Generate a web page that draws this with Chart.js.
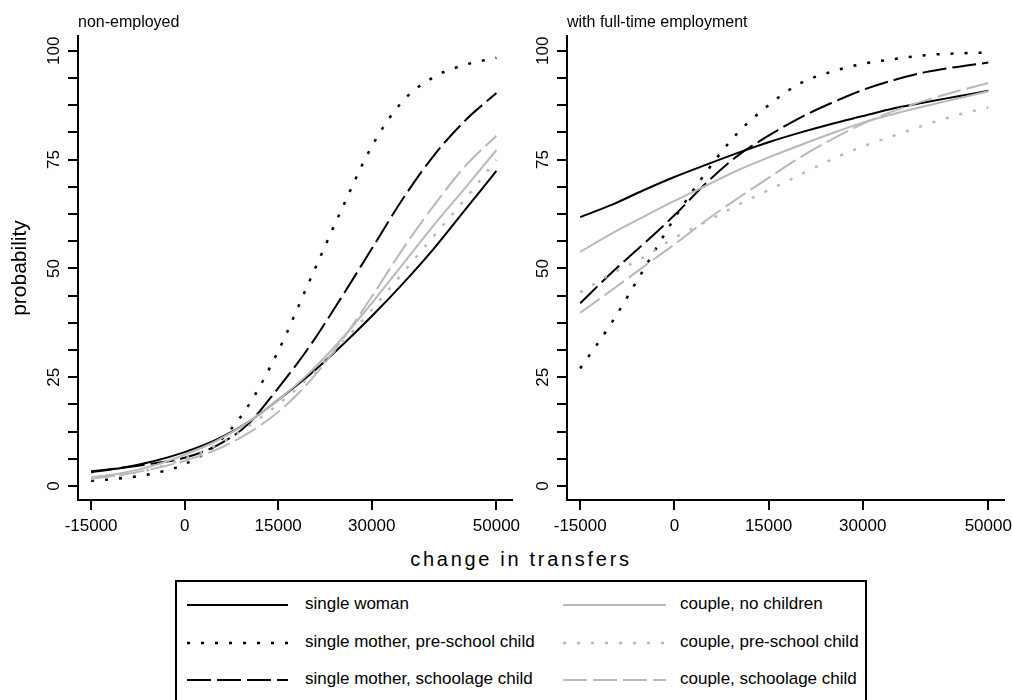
<!DOCTYPE html>
<html>
<head>
<meta charset="utf-8">
<title>probability by change in transfers</title>
<script src="https://cdn.jsdelivr.net/npm/chart.js@4.4.1/dist/chart.umd.min.js"></script>
<style>
  html, body { margin: 0; padding: 0; background: #fff; overflow: hidden; }
  #page { position: relative; width: 1012px; height: 700px; font-family: "Liberation Sans", Arial, sans-serif; color: #000; }
  #page canvas { position: absolute; top: 0; }
  #leftChart { left: 0; }
  #rightChart { left: 488px; }
  #xTitle { position: absolute; left: 321px; top: 547px; width: 400px; text-align: center; font-size: 20px; line-height: 24px; letter-spacing: 2.7px; }
  #legend { position: absolute; left: 175px; top: 580px; width: 692px; height: 130px; border: 2px solid #000; box-sizing: border-box; }
  #legend .item { position: absolute; font-size: 17px; line-height: 20px; white-space: nowrap; }
  #legend svg { position: absolute; overflow: visible; }
</style>
</head>
<body>
<div id="page">
  <canvas id="leftChart" width="525" height="545"></canvas>
  <canvas id="rightChart" width="524" height="545"></canvas>
  <div id="xTitle">change in transfers</div>
  <div id="legend"></div>
</div>
<script>
// values, every 5000 of change in transfers
const xValues = [-15000, -10000, -5000, 0, 5000, 10000, 15000, 20000, 25000, 30000, 35000, 40000, 45000, 50000];
const xTicks = [-15000, 0, 15000, 30000, 50000];
const yTicks = [0, 6.25, 12.5, 18.75, 25, 31.25, 37.5, 43.75, 50, 56.25, 62.5, 68.75, 75, 81.25, 87.5, 93.75, 100];

const seriesNames = [
  "single woman",
  "single mother, pre-school child",
  "single mother, schoolage child",
  "couple, no children",
  "couple, pre-school child",
  "couple, schoolage child",
];

// non-employed
const neSingleWoman = [3.2, 4.2, 5.7, 7.8, 10.6, 14.5, 19.8, 25.5, 32, 39, 46.5, 54.6, 63.5, 72.4];
const neSingleMotherPre = [1.2, 1.8, 2.9, 5.0, 9.5, 18, 31, 47, 63, 78, 88.5, 94, 96.8, 98.4];
const neSingleMotherSchool = [3.4, 4.2, 5.2, 6.5, 9.2, 14, 22.5, 32, 43, 54.5, 66, 76, 84, 90.3];
const neCoupleNone = [2.0, 3.0, 4.7, 7.2, 10.3, 14.5, 19.8, 26, 33.5, 42, 51, 60, 68.5, 77.2];
const neCouplePre = [1.6, 2.5, 4.0, 6.3, 9.3, 13.5, 18.8, 25, 32.5, 40.5, 49, 57.5, 66, 75];
const neCoupleSchool = [1.7, 2.6, 4.0, 5.8, 8.3, 12.0, 17, 24, 33, 43.5, 54.5, 64.5, 73.5, 80.5];

// with full-time employment
const ftSingleWoman = [61.8, 64.6, 67.9, 71, 73.8, 76.5, 79, 81.2, 83.2, 85, 86.8, 88.2, 89.5, 90.8];
const ftSingleMotherPre = [27, 37.5, 49.5, 61.5, 72, 81, 87.5, 92.5, 95.2, 97, 98.1, 99, 99.4, 99.6];
const ftSingleMotherSchool = [42, 49, 55.5, 62.2, 69.5, 75.8, 80.5, 84.6, 88, 91, 93.3, 95.1, 96.3, 97.3];
const ftCoupleNone = [53.8, 58, 61.8, 65.5, 69, 72.5, 75.5, 78.3, 81, 83.5, 85.5, 87.3, 89, 90.7];
const ftCouplePre = [44.5, 48.8, 52.5, 57, 60.7, 64.5, 68, 71.5, 75, 78, 80.5, 83, 85.2, 87];
const ftCoupleSchool = [39.8, 45, 50.3, 55.5, 61, 66, 70.8, 75.5, 79.6, 83.2, 86.2, 88.6, 90.7, 92.6];

const BLACK = "#000000";
const GREY = "#b9b9b9";
const lineStyles = [
  { color: BLACK, dash: [], width: 2 },
  { color: BLACK, dash: [3, 11], width: 2.5 },
  { color: BLACK, dash: [24, 6], width: 2 },
  { color: GREY, dash: [], width: 2 },
  { color: GREY, dash: [3, 11], width: 2.5 },
  { color: GREY, dash: [24, 6], width: 2 },
];

Chart.defaults.font.family = '"Liberation Sans", Arial, sans-serif';
Chart.defaults.color = "#000";

function makeDatasets(seriesValues) {
  return seriesValues.map((values, i) => ({
    label: seriesNames[i],
    data: values.map((v, j) => ({ x: xValues[j], y: v })),
    borderColor: lineStyles[i].color,
    borderDash: lineStyles[i].dash,
    borderWidth: lineStyles[i].width,
    borderCapStyle: "butt",
    pointRadius: 0,
    fill: false,
    cubicInterpolationMode: "monotone",
    order: -i, // later series drawn on top, like the original
  }));
}

function makePanel(canvasId, panelTitle, seriesValues, yTitle, yAxisWidth, padRight) {
  const ctx = document.getElementById(canvasId).getContext("2d");
  return new Chart(ctx, {
    type: "line",
    data: { datasets: makeDatasets(seriesValues) },
    options: {
      responsive: false,
      animation: false,
      events: [],
      layout: { padding: { top: 8, left: 0, right: padRight, bottom: 0 } },
      scales: {
        x: {
          type: "linear",
          min: -17100,
          max: 52500,
          afterBuildTicks: (axis) => {
            axis.ticks = xTicks.map((v) => ({ value: v }));
          },
          afterFit: (axis) => {
            axis.height = 45;
            axis.paddingLeft = 0;
            axis.paddingRight = 0;
          },
          border: { display: true, color: BLACK, width: 2 },
          grid: { drawOnChartArea: false, drawTicks: true, tickLength: 10, color: BLACK, lineWidth: 2 },
          ticks: {
            font: { size: 17 },
            padding: 6,
            maxRotation: 0,
            autoSkip: false,
            callback: (value) => String(value),
          },
        },
        y: {
          type: "linear",
          min: -3.2,
          max: 103.4,
          afterBuildTicks: (axis) => {
            axis.ticks = yTicks.map((v) => ({ value: v }));
          },
          afterFit: (axis) => {
            axis.width = yAxisWidth;
            axis.paddingTop = 0;
            axis.paddingBottom = 0;
          },
          border: { display: true, color: BLACK, width: 2 },
          grid: { drawOnChartArea: false, drawTicks: true, tickLength: 10, color: BLACK, lineWidth: 2 },
          ticks: {
            font: { size: 17 },
            padding: 0,
            minRotation: 90,
            maxRotation: 90,
            crossAlign: "center",
            autoSkip: false,
            callback: (value) => (value % 25 === 0 ? String(value) : ""),
          },
          title: {
            display: !!yTitle,
            text: yTitle || "",
            font: { size: 21 },
            padding: { top: 8, bottom: 0 },
          },
        },
      },
      plugins: {
        legend: { display: false },
        tooltip: { enabled: false },
        title: {
          display: true,
          text: panelTitle,
          align: "start",
          fullSize: false,
          font: { size: 16, weight: "normal" },
          padding: { top: 5, bottom: 3.8 },
        },
      },
    },
  });
}

// shared legend below both panels, two columns of three
function buildLegend() {
  const box = document.getElementById("legend");
  const rowY = [23, 61, 98];
  const cols = [
    { lineFrom: 10, lineTo: 111, textX: 128 },
    { lineFrom: 386, lineTo: 489, textX: 503 },
  ];
  seriesNames.forEach((name, i) => {
    const col = cols[Math.floor(i / 3)];
    const y = rowY[i % 3];
    const st = lineStyles[i];

    const svg = document.createElementNS("http://www.w3.org/2000/svg", "svg");
    svg.setAttribute("width", col.lineTo - col.lineFrom);
    svg.setAttribute("height", 6);
    svg.style.left = col.lineFrom + "px";
    svg.style.top = y - 3 + "px";
    const line = document.createElementNS("http://www.w3.org/2000/svg", "line");
    line.setAttribute("x1", 0);
    line.setAttribute("x2", col.lineTo - col.lineFrom);
    line.setAttribute("y1", 3);
    line.setAttribute("y2", 3);
    line.setAttribute("stroke", st.color);
    line.setAttribute("stroke-width", st.width);
    if (st.dash.length) line.setAttribute("stroke-dasharray", st.dash.join(" "));
    svg.appendChild(line);
    box.appendChild(svg);

    const label = document.createElement("div");
    label.className = "item";
    label.textContent = name;
    label.style.left = col.textX + "px";
    label.style.top = y - 11.5 + "px";
    box.appendChild(label);
  });
}

document.addEventListener("DOMContentLoaded", function () {
  makePanel(
    "leftChart",
    "non-employed",
    [neSingleWoman, neSingleMotherPre, neSingleMotherSchool, neCoupleNone, neCouplePre, neCoupleSchool],
    "probability",
    78,
    13
  );
  makePanel(
    "rightChart",
    "with full-time employment",
    [ftSingleWoman, ftSingleMotherPre, ftSingleMotherSchool, ftCoupleNone, ftCouplePre, ftCoupleSchool],
    null,
    79,
    8
  );
  buildLegend();
});
</script>
</body>
</html>
